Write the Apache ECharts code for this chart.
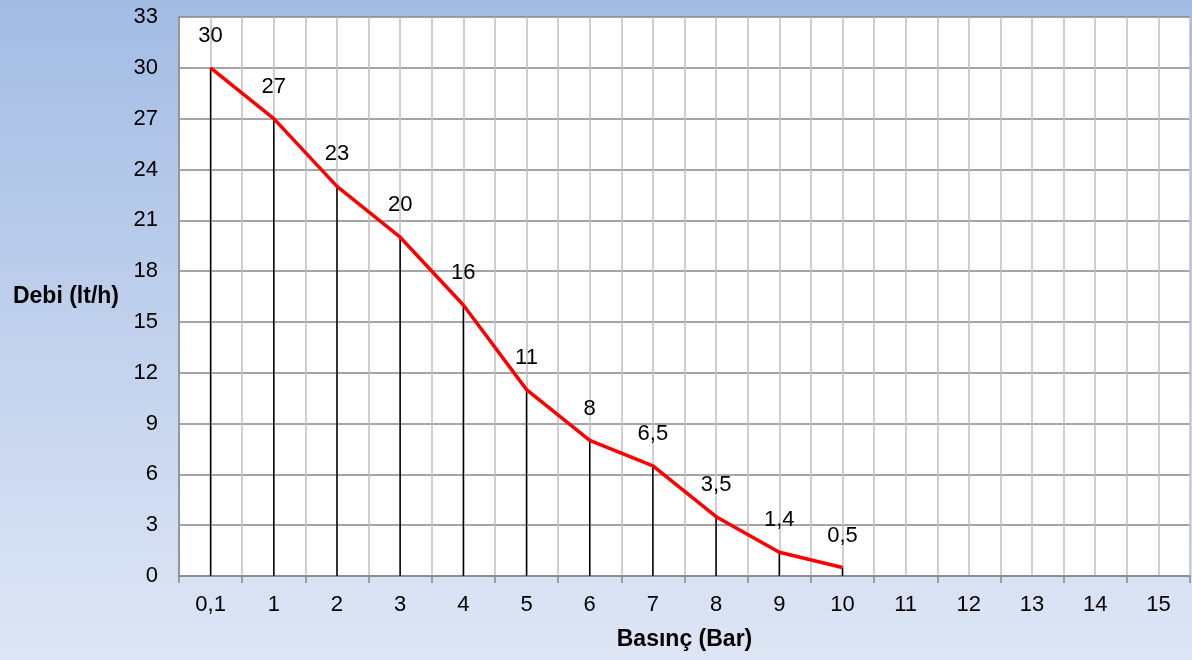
<!DOCTYPE html>
<html>
<head>
<meta charset="utf-8">
<script src="https://cdn.jsdelivr.net/npm/echarts@6/dist/echarts.min.js"></script>
<style>
html,body{margin:0;padding:0;}
#c{width:1192px;height:660px;}
</style>
</head>
<body>
<div id="c"></div>
<script>
var categories = ['0,1','1','2','3','4','5','6','7','8','9','10','11','12','13','14','15'];
var debi = [30, 27, 23, 20, 16, 11, 8, 6.5, 3.5, 1.4, 0.5];
var yTicks = {min: 0, max: 33, interval: 3};

var halfCats = [];
for (var i = 0; i < categories.length * 2; i++) halfCats.push('h' + i);

var FONT = 'Liberation Sans, Arial, sans-serif';
var chart = echarts.init(document.getElementById('c'));
chart.setOption({
  backgroundColor: {
    type: 'linear', x: 0, y: 0, x2: 0, y2: 1,
    colorStops: [{offset: 0, color: '#a3bce4'}, {offset: 1, color: '#dee6f5'}]
  },
  textStyle: {fontFamily: FONT},
  animation: false,
  grid: {left: 179, right: 2, top: 17, bottom: 84, show: true, backgroundColor: '#ffffff', borderWidth: 0},
  xAxis: [{
    type: 'category',
    data: categories,
    boundaryGap: true,
    name: 'Basınç (Bar)',
    nameLocation: 'middle',
    nameGap: 52,
    nameTextStyle: {fontSize: 23, fontWeight: 'bold', color: '#000', fontFamily: FONT},
    axisLine: {lineStyle: {color: '#868686', width: 1.5}},
    axisTick: {show: true, length: 7, lineStyle: {color: '#868686', width: 1.5}},
    axisLabel: {fontSize: 22, color: '#000', margin: 18, fontFamily: FONT},
    splitLine: {show: false}
  }, {
    type: 'category',
    data: halfCats,
    boundaryGap: true,
    position: 'top',
    axisLine: {show: false},
    axisTick: {show: false},
    axisLabel: {show: false},
    splitLine: {show: true, lineStyle: {color: '#bfbfbf', width: 1.5}}
  }],
  yAxis: {
    type: 'value',
    min: yTicks.min, max: yTicks.max, interval: yTicks.interval,
    name: 'Debi (lt/h)',
    nameLocation: 'middle',
    nameRotate: 0,
    nameGap: 60,
    nameTextStyle: {fontSize: 23, fontWeight: 'bold', color: '#000', fontFamily: FONT, align: 'right'},
    axisLine: {show: true, lineStyle: {color: '#868686', width: 1.5}},
    axisTick: {show: false},
    axisLabel: {fontSize: 22, color: '#000', margin: 21, fontFamily: FONT},
    splitLine: {show: true, lineStyle: {color: '#878787', width: 1.5}}
  },
  series: [{
    type: 'bar',
    data: debi,
    barWidth: 1.5,
    itemStyle: {color: '#000'},
    label: {
      show: true, position: 'top', distance: 21,
      fontSize: 22, color: '#000', fontFamily: FONT,
      formatter: function (p) { return String(p.value).replace('.', ','); }
    },
    z: 3
  }, {
    type: 'line',
    data: debi,
    symbol: 'none',
    lineStyle: {color: '#ff0000', width: 3.5},
    z: 4
  }]
});
</script>
</body>
</html>
